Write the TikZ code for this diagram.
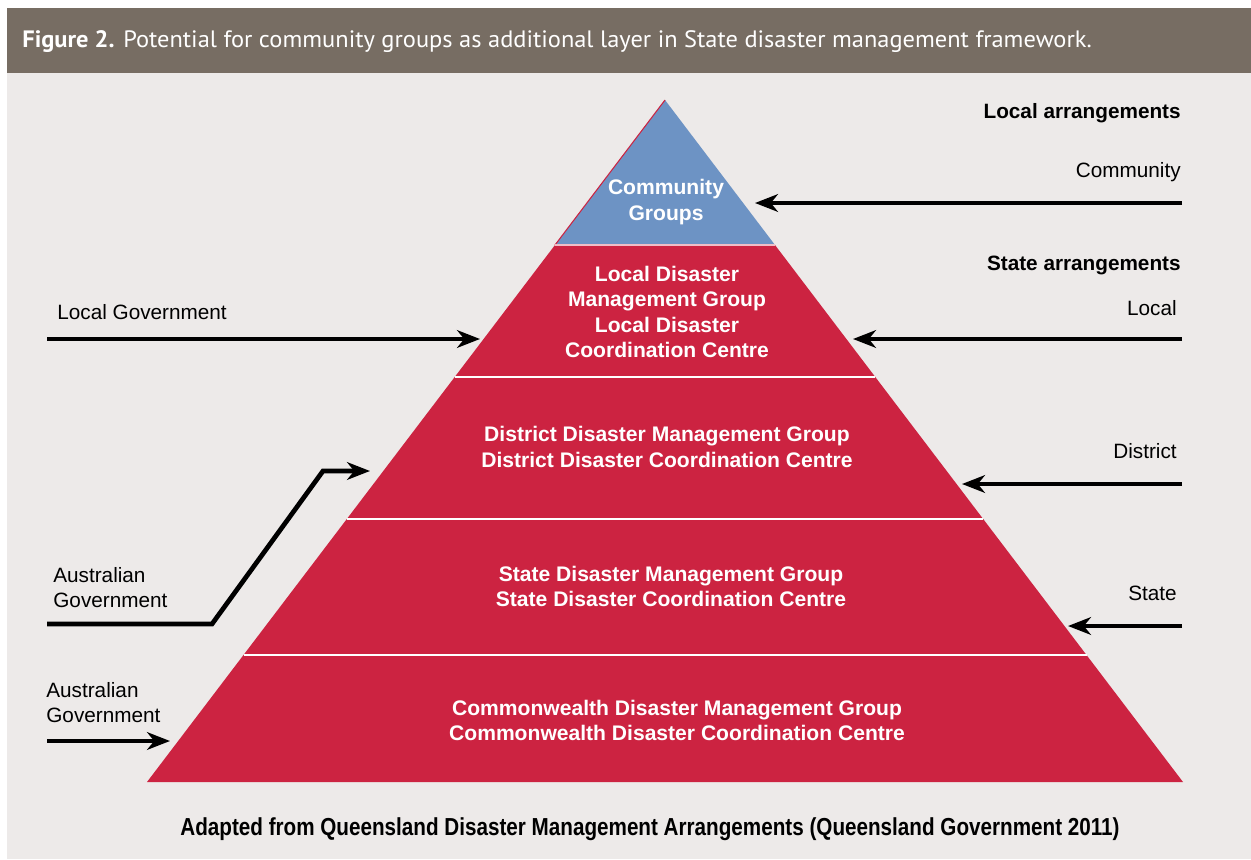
\documentclass[tikz,border=0pt]{standalone}
\usepackage{fontspec}
\setmainfont{Liberation Sans}
\newfontfamily\headfont[FakeStretch=1.03]{PT Sans}
\newfontfamily\narrowfont[FakeStretch=0.84]{Liberation Sans}
\usetikzlibrary{arrows.meta}

\definecolor{headgrey}{HTML}{776D63}
\definecolor{paper}{HTML}{EDEAE9}
\definecolor{layerred}{HTML}{CC2341}
\definecolor{topblue}{HTML}{6D93C4}

\tikzset{
  inlabel/.style={text=white, font=\bfseries\fontsize{12}{14.5}\selectfont, align=center, inner sep=0pt},
  sidelabel/.style={font=\fontsize{11.8}{14.5}\selectfont, align=left, inner sep=0pt},
  feed/.style={line width=2.7pt, -{Stealth[length=13pt,width=10pt,inset=4pt]}}
}

\begin{document}
\begin{tikzpicture}[x=0.02cm, y=-0.02cm]
  \useasboundingbox (0,0) rectangle (1251,859);
  \fill[paper] (7,73) rectangle (1251,859);

  % Header
  \fill[headgrey] (7,8) rectangle (1251,73);
  \node[anchor=west, text=white, inner sep=0pt] (head) at (22,42)
    {\headfont\fontsize{13.5}{16}\selectfont\bfseries Figure 2.\mdseries{} Potential for community groups as additional layer in State disaster management framework.};

  % Pyramid
  \coordinate (A) at (665,100);
  \coordinate (B1) at (555,245);   \coordinate (C1) at (775,245);
  \coordinate (B2) at (454.6,377); \coordinate (C2) at (875.4,377);
  \coordinate (B3) at (346.8,519); \coordinate (C3) at (983.2,519);
  \coordinate (B4) at (243.5,655); \coordinate (C4) at (1086.5,655);
  \coordinate (B5) at (147,782);   \coordinate (C5) at (1183,782);
  \fill[layerred] (B1) -- (C1) -- (C5) -- (B5) -- cycle;
  \fill[topblue] (A) -- (C1) -- (B1) -- cycle;
  \draw[layerred, line width=0.6pt] (B1) -- (A);
  \draw[white!70!layerred, line width=1pt] (B1) -- (C1);
  \foreach \i in {2,3,4}
    \draw[white, line width=1pt] (B\i) -- (C\i);

  % Layer texts
  \node[inlabel] (community) at (666,202) {Community\\Groups};
  \node[inlabel] (local) at (667,312) {Local Disaster\\Management Group\\Local Disaster\\Coordination Centre};
  \node[inlabel] (district) at (667,447) {District Disaster Management Group\\District Disaster Coordination Centre};
  \node[inlabel] (state) at (671,586.5) {State Disaster Management Group\\State Disaster Coordination Centre};
  \node[inlabel] (commonwealth) at (677,720.5) {Commonwealth Disaster Management Group\\Commonwealth Disaster Coordination Centre};

  % Right side
  \node[sidelabel, anchor=east, font=\bfseries\fontsize{11.8}{14.5}\selectfont] (localarr) at (1181,113) {Local arrangements};
  \node[sidelabel, anchor=east] (communitylbl) at (1181,172) {Community};
  \node[sidelabel, anchor=east, font=\bfseries\fontsize{11.8}{14.5}\selectfont] (statearr) at (1181,265) {State arrangements};
  \node[sidelabel, anchor=east] (locallbl) at (1177,308) {Local};
  \node[sidelabel, anchor=east] (districtlbl) at (1177,451) {District};
  \node[sidelabel, anchor=east] (statelbl) at (1177,593) {State};

  \coordinate (rc) at (1182,203); \coordinate (rc-in) at (755,203);
  \coordinate (rl) at (1182,339); \coordinate (rl-in) at (853,339);
  \coordinate (rd) at (1182,484); \coordinate (rd-in) at (962,484);
  \coordinate (rs) at (1182,626); \coordinate (rs-in) at (1068,626);
  \draw[feed] (rc) -- (rc-in);
  \draw[feed] (rl) -- (rl-in);
  \draw[feed] (rd) -- (rd-in);
  \draw[feed] (rs) -- (rs-in);

  % Left side
  \node[sidelabel, anchor=west] (localgov) at (57,312) {Local Government};
  \node[sidelabel, anchor=west] (ausgov1) at (53,587.5) {Australian\\Government};
  \node[sidelabel, anchor=west] (ausgov2) at (46,702.5) {Australian\\Government};

  \coordinate (lg) at (47,339);  \coordinate (lg-in) at (480,339);
  \coordinate (ag) at (47,624);  \coordinate (ag-in) at (370,471);
  \coordinate (ac) at (47,741);  \coordinate (ac-in) at (170,741);
  \draw[feed] (lg) -- (lg-in);
  \draw[feed, line join=miter] (ag) -- (212,624) -- (323,471) -- (ag-in);
  \draw[feed] (ac) -- (ac-in);

  % Source
  \node[inner sep=0pt] (source) at (650,829)
    {\narrowfont\bfseries\fontsize{14}{16}\selectfont Adapted from Queensland Disaster Management Arrangements (Queensland Government 2011)};
\end{tikzpicture}
\end{document}
